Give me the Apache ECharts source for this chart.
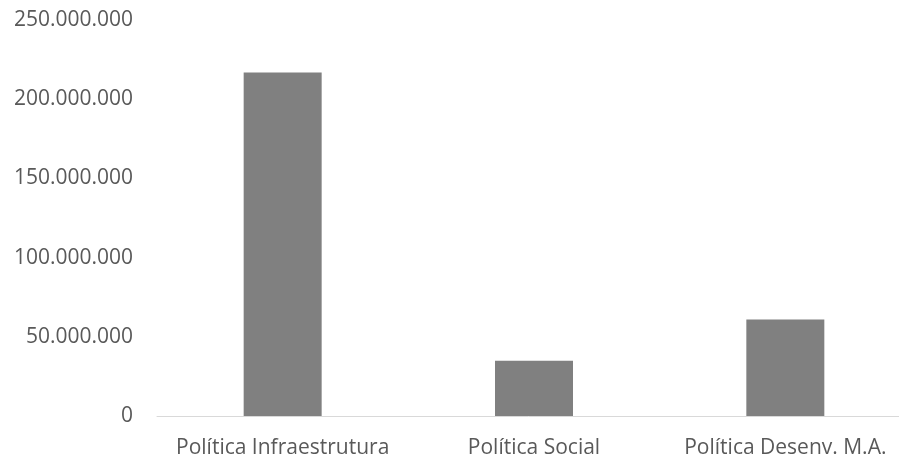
<!DOCTYPE html>
<html>
<head>
<meta charset="utf-8">
<script src="https://cdn.jsdelivr.net/npm/echarts@6/dist/echarts.min.js"></script>
<style>
  html, body { margin: 0; padding: 0; background: #fff; }
  #chart { width: 899px; height: 457px; }
</style>
</head>
<body>
<div id="chart"></div>
<script>
// Spending by policy area
const categories = ['Política Infraestrutura', 'Política Social', 'Política Desenv. M.A.'];
const values = [216800000, 34900000, 61000000];
const yTicks = { min: 0, max: 250000000, interval: 50000000 };

function fmtThousands(v) {
  return String(Math.round(v)).replace(/\B(?=(\d{3})+(?!\d))/g, '.');
}

const chart = echarts.init(document.getElementById('chart'), null, { renderer: 'canvas' });
chart.setOption({
  animation: false,
  textStyle: { fontFamily: 'Open Sans' },
  // plot area runs slightly past the right edge of the canvas
  grid: { left: 157, right: -12, top: 20, bottom: 41, containLabel: false, outerBoundsMode: 'none' },
  xAxis: {
    type: 'category',
    data: categories,
    axisLine: { lineStyle: { color: '#d9d9d9', width: 1 } },
    axisTick: { show: false },
    axisLabel: { color: '#595959', fontSize: 21, margin: 22, interval: 0, fontFamily: 'Open Sans' }
  },
  yAxis: {
    type: 'value',
    min: yTicks.min,
    max: yTicks.max,
    interval: yTicks.interval,
    splitLine: { show: false },
    axisLine: { show: false },
    axisTick: { show: false },
    axisLabel: {
      color: '#595959', fontSize: 21, margin: 24, fontFamily: 'Open Sans',
      padding: [5, 0, 0, 0],
      formatter: fmtThousands
    }
  },
  series: [{
    type: 'bar',
    data: values,
    barWidth: 78,
    itemStyle: { color: '#808080' }
  }]
});
</script>
</body>
</html>
